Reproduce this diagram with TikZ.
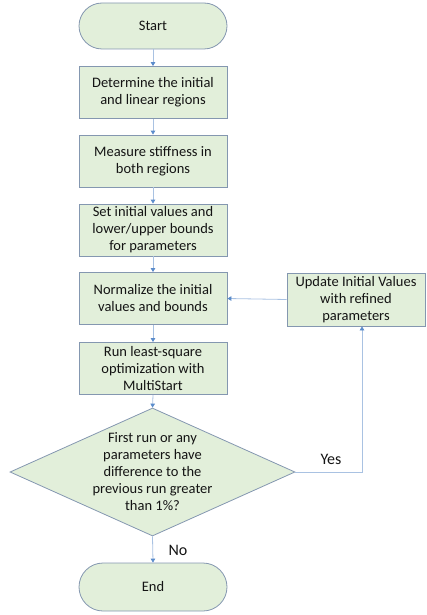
\documentclass[tikz,border=0pt]{standalone}
\usepackage{fontspec}
\setmainfont{Carlito}
\usetikzlibrary{shapes.geometric,arrows.meta}
\definecolor{boxfill}{HTML}{E2EFDA}
\definecolor{boxline}{HTML}{8497B0}
\definecolor{conn}{HTML}{A9C2E2}
\definecolor{tipc}{HTML}{5B8CCB}
\definecolor{txt}{HTML}{141414}
\begin{document}
\begin{tikzpicture}[x=1pt,y=-1pt,
  font=\fontsize{14.5}{17}\selectfont,
  proc/.style={draw=boxline, fill=boxfill, line width=0.8pt, minimum width=148pt,
    minimum height=52pt, inner sep=0pt, align=center, text=txt},
  term/.style={proc, rounded corners=23pt, minimum height=46pt},
  dec/.style={diamond, draw=boxline, fill=boxfill, line width=0.8pt,
    minimum width=285pt, minimum height=128pt, inner sep=0pt},
  arr/.style={draw=conn, line width=0.8pt, -{Triangle[length=4pt,width=4.5pt,color=tipc,fill=tipc]}},
  lbl/.style={text=txt, inner sep=0pt, font=\fontsize{16}{19}\selectfont}
]
\useasboundingbox (0,0) rectangle (426,615);
\node[term] (start) at (153,26) {Start};
\node[proc] (det) at (153,92.5) {Determine the initial\\and linear regions};
\node[proc] (meas) at (153,161) {Measure stiffness in\\both regions};
\node[proc] (set) at (153,230) {Set initial values and\\lower/upper bounds\\for parameters};
\node[proc] (norm) at (153,298.5) {Normalize the initial\\values and bounds};
\node[proc] (run) at (153,368.5) {Run least-square\\optimization with\\MultiStart};
\node[dec] (dia) at (152.5,472) {};
\node[align=center, text=txt, inner sep=0pt] (diatext) at (dia.center) {First run or any\\parameters have\\difference to the\\previous run greater\\than 1\%?};
\node[term, minimum height=48pt, rounded corners=24pt] (end) at (153,587) {End};
\node[proc, minimum width=138pt, minimum height=53pt] (upd) at (356,299.5) {Update Initial Values\\with refined\\parameters};
\node[lbl] (yes) at (331,459) {Yes};
\node[lbl] (no) at (178,550) {No};
\draw[arr] (start.south) -- (det.north);
\draw[arr] (det.south) -- (meas.north);
\draw[arr] (meas.south) -- (set.north);
\draw[arr] (set.south) -- (norm.north);
\draw[arr] (norm.south) -- (run.north);
\draw[arr] (run.south) -- (dia.north);
\draw[arr] (dia.south) -- (end.north);
\draw[arr] (upd.west) -- (norm.east);
\draw[arr] (dia.east) -| ([xshift=6pt]upd.south);
\end{tikzpicture}
\end{document}
